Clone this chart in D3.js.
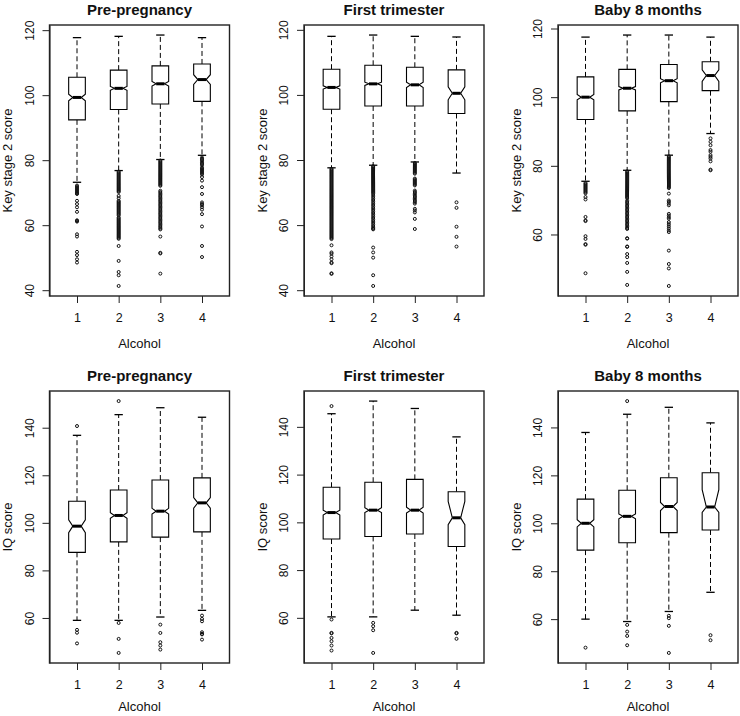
<!DOCTYPE html>
<html><head><meta charset="utf-8">
<script src="https://cdn.jsdelivr.net/npm/d3@7"></script>
<style>body{margin:0;background:#fff}svg{display:block}text{font-family:"Liberation Sans",Arial,sans-serif;fill:#111}</style>
</head><body><svg id="c" width="740" height="716"></svg>
<script>
// ---------------- DATA ----------------
const titles = ["Pre-pregnancy", "First trimester", "Baby 8 months"];
const yTitles = ["Key stage 2 score", "IQ score"];
const xTitle = "Alcohol";
const groups = [1, 2, 3, 4];

// rows per alcohol group: [whiskerLo, q1, median, q3, whiskerHi, notchLo, notchHi]
const ks2PreStats = [
  [73.2, 92.4, 99.3, 105.5, 117.7, 98.3, 100.3],
  [76.8, 95.6, 102.1, 107.7, 118.1, 101.5, 102.7],
  [80.2, 97.3, 103.5, 109.0, 118.5, 102.8, 104.2],
  [81.5, 98.1, 104.8, 109.6, 117.7, 103.3, 106.3]
];
const ks2FirstStats = [
  [77.6, 95.6, 102.3, 107.9, 118.0, 101.8, 102.8],
  [78.4, 96.6, 103.4, 109.1, 118.4, 102.9, 103.9],
  [79.4, 96.6, 103.1, 108.5, 118.0, 102.3, 103.9],
  [76.0, 94.3, 100.5, 107.7, 117.8, 98.5, 102.5]
];
const ks2BabyStats = [
  [75.5, 93.5, 100.0, 105.9, 117.5, 99.2, 100.8],
  [78.7, 96.0, 102.6, 108.1, 118.1, 102.1, 103.1],
  [83.1, 98.7, 104.8, 109.5, 118.1, 104.2, 105.4],
  [89.4, 101.9, 106.3, 110.3, 117.5, 104.6, 108.0]
];
const iqPreStats = [
  [59.0, 87.6, 98.6, 109.1, 136.8, 95.9, 101.3],
  [59.0, 92.0, 103.1, 113.8, 145.5, 101.9, 104.3],
  [60.4, 94.0, 104.9, 118.0, 148.4, 103.7, 106.1],
  [63.2, 96.2, 108.4, 118.9, 144.4, 106.2, 110.6]
];
const iqFirstStats = [
  [60.4, 93.0, 104.1, 114.7, 145.5, 103.1, 105.1],
  [60.4, 94.1, 105.1, 116.8, 150.8, 104.1, 106.1],
  [63.2, 95.1, 105.1, 118.0, 147.7, 103.9, 106.3],
  [61.1, 89.9, 101.9, 112.8, 135.8, 99.0, 108.8]
];
const iqBabyStats = [
  [60.0, 88.8, 100.0, 110.1, 137.9, 98.5, 101.5],
  [59.0, 91.9, 102.9, 113.8, 145.5, 101.9, 103.9],
  [63.2, 96.1, 107.0, 119.0, 148.4, 105.3, 108.7],
  [71.2, 97.2, 106.8, 121.1, 141.9, 104.5, 114.0]
];

// outliers per alcohol group
const ks2PreOut = [
  [72.2,71.9,71.6,71.3,71,70.7,70.4,70.1,69.8,69.6,67.5,66.5,65.5,64.1,61.5,61.3,61.1,57.2,56.5,51.8,50.8,49.5,48.5],
  [76.5,76.2,75.9,75.6,75.3,75,74.7,74.4,74.1,73.8,73.5,73.2,72.9,72.6,72.3,72,71.7,71.4,71.1,70.8,70.5,70.2,69,68.3,67.5,67.2,66.9,66.6,66.3,66,65.7,65.4,65.1,64.8,64.5,64.2,63.9,63.6,63.3,63,62.4,62.1,61.8,61.5,61.2,60.9,60.6,60.3,60,59.7,59.4,59.1,58.8,58.5,58.2,57.9,57.6,57.3,57,56.7,56.4,56.1,55.8,53.6,49,45.6,44.6,41.3],
  [79.9,79.6,79.3,79,78.7,78.4,78.1,77.8,77.5,77.2,76.9,76.6,76.3,76,75.7,75.4,75.1,74.8,74.5,74.2,73.9,73.6,73.3,73,72.7,72.4,72.1,70.6,70.2,69.8,69.4,69,68.6,68.2,67.8,67.4,67,66.6,66.2,65.8,65.4,65,64.6,64.2,63.8,63.4,63,62.6,62.2,61.8,61.4,61,60.6,60.2,59.8,59.4,59,58.7,56.5,51.5,51.3,45.1],
  [80.8,80.4,80,79.6,79.2,78.8,78.4,77.7,77.4,77.1,76.8,76.5,76.2,75.9,75.6,74.8,73.7,71.7,69.6,67,66.5,66.1,65.5,64.8,63.4,59.6,53.6,50.2]
];
const ks2FirstOut = [
  [77.3,77,76.7,76.4,76.1,75.8,75.5,75.2,74.9,74.6,74.3,74,73.7,73.4,73.1,72.8,72.5,72.2,71.9,71.6,71.3,71,70.7,70.4,70.1,69.8,69.5,69.2,68.9,68.6,68.3,68,67.7,67.4,67.1,66.8,66.5,66.2,65.9,65.6,65.3,65,64.7,64.4,64.1,63.8,63.5,63.2,62.9,62.6,62.3,62,61.7,61.4,61.1,60.8,60.5,60.2,59.9,59.6,59.3,59,58.7,58.4,58.1,57.8,57.5,57.2,56.9,56.6,56.3,56,55.7,53.8,51.6,51.2,50.4,49.5,48.5,48.3,45.2,45],
  [78.1,77.8,77.5,77.2,76.9,76.6,76.3,76,75.7,75.4,75.1,74.8,74.5,74.2,73.9,73.6,73.3,73,72.7,72.4,72.1,71.8,71.5,71.2,70.9,70.6,70.3,70,69.7,69.2,68.7,68.2,67.7,67.2,66.7,66.2,65.7,65.2,64.7,64.2,63.7,63.2,62.7,62.2,61.7,61.2,60.7,60.2,59.7,59.2,58.9,58.7,53.1,51.6,50,44.6,41.3],
  [79.1,78.8,78.5,78.2,77.9,77.6,77.3,77,76.7,76.4,76.1,75.8,74.3,74,73.7,73.4,73.1,72.8,72.5,72.2,70.6,70.2,69.8,69.4,69,68.6,68.2,67.8,67.4,67,66.6,65,64.5,63.9,61.9,58.8],
  [67,65.3,59.5,56.4,53.4]
];
const ks2BabyOut = [
  [75,74.7,74.4,74.1,73.8,73.5,73.2,72.9,72.6,72.3,72,70.9,70.2,65.1,64.1,63.9,59.5,58.7,57.2,57,48.7],
  [78.4,78.1,77.8,77.5,77.2,76.9,76.6,76.3,76,75.7,75.4,75.1,74.8,74.5,74.2,73.9,73.6,73.3,73,72.7,72.4,72.1,71.8,71.5,71.2,70.9,70.6,69.9,69.5,69.1,68.7,68.3,67.9,67.5,67.1,66.7,66.3,65.9,65.5,65.1,64.7,64.3,63.9,63.5,63.1,62.7,62.3,61.9,61.6,58.9,58.8,56.5,56.4,54.3,53.4,51.7,49.1,45.3],
  [82.8,82.5,82.2,81.9,81.6,81.3,81,80.7,80.4,80.1,79.8,79.5,79.2,78.9,78.6,78.3,78,77.7,77.4,77.1,76.8,76.5,76.2,75.9,75.6,75.3,75,74.7,74.4,74.1,73.8,73.5,71.9,69.9,69.5,69,68.5,66,65.5,65,64.6,63.6,63,62.4,61.8,61.2,60.7,55.3,51.4,50.1,45],
  [88,87,86,84.6,84.1,83.1,82.6,82.1,81.3,78.9,78.7]
];
const iqPreOut = [
  [140.7,55,53.8,49.3],
  [151.2,57.9,51.2,45.3],
  [57.2,53.7,49.8,48.4,46.7],
  [61,59.6,58.6,54,53.3,53.1,50.9]
];
const iqFirstOut = [
  [148.7,59.3,53.7,53.5,51.6,50.2,48.4,46.3],
  [57.9,56.5,54.8,45.3],
  [],
  [53.7,53.5,51.2]
];
const iqBabyOut = [
  [48.1],
  [151,57.6,54.8,53,49.1],
  [61.4,60.4,57.2,45.9],
  [53.3,51.2]
];

const ticksKs2 = [40, 60, 80, 100, 120];
const ticksKs2Baby = [60, 80, 100, 120];
const ticksIq = [60, 80, 100, 120, 140];

// ---------------- LAYOUT ----------------
const panels = [
  {row: 0, col: 0, stats: ks2PreStats, out: ks2PreOut, ticks: ticksKs2},
  {row: 0, col: 1, stats: ks2FirstStats, out: ks2FirstOut, ticks: ticksKs2},
  {row: 0, col: 2, stats: ks2BabyStats, out: ks2BabyOut, ticks: ticksKs2Baby},
  {row: 1, col: 0, stats: iqPreStats, out: iqPreOut, ticks: ticksIq},
  {row: 1, col: 1, stats: iqFirstStats, out: iqFirstOut, ticks: ticksIq},
  {row: 1, col: 2, stats: iqBabyStats, out: iqBabyOut, ticks: ticksIq}
];
const colLeft = [49.5, 304, 558];
const colW = 180;
const rowTop = [25, 391];
const rowBot = [296, 663];

const svg = d3.select("#c");
svg.append("rect").attr("width", 740).attr("height", 716).attr("fill", "#fff");

panels.forEach(p => {
  const L = colLeft[p.col], R = L + colW, T = rowTop[p.row], B = rowBot[p.row];
  const all = [];
  p.stats.forEach(s => { all.push(s[0], s[4]); });
  p.out.forEach(o => o.forEach(v => all.push(v)));
  const [mn, mx] = d3.extent(all);
  const pad = (mx - mn) * 0.04;
  const y = d3.scaleLinear().domain([mn - pad, mx + pad]).range([B, T]);
  const x = d3.scaleLinear().domain([0.34, 4.66]).range([L, R]);
  const g = svg.append("g");

  const hw = x(1.2) - x(1);      // box half width
  const sw = x(1.1) - x(1);      // staple half width

  p.stats.forEach((s, i) => {
    const cx = x(groups[i]);
    const [lo, q1, med, q3, hi, nlo, nhi] = s;
    // whiskers
    g.append("line").attr("x1", cx).attr("x2", cx).attr("y1", y(q3)).attr("y2", y(hi))
      .attr("stroke", "#000").attr("stroke-width", 1).attr("stroke-dasharray", "5,3");
    g.append("line").attr("x1", cx).attr("x2", cx).attr("y1", y(q1)).attr("y2", y(lo))
      .attr("stroke", "#000").attr("stroke-width", 1).attr("stroke-dasharray", "5,3");
    // staples
    [lo, hi].forEach(v => {
      g.append("line").attr("x1", cx - sw).attr("x2", cx + sw).attr("y1", y(v)).attr("y2", y(v))
        .attr("stroke", "#000").attr("stroke-width", 1.3);
    });
    // notched box
    const pts = [
      [cx - hw, y(q1)], [cx - hw, y(nlo)], [cx - hw / 2, y(med)], [cx - hw, y(nhi)], [cx - hw, y(q3)],
      [cx + hw, y(q3)], [cx + hw, y(nhi)], [cx + hw / 2, y(med)], [cx + hw, y(nlo)], [cx + hw, y(q1)]
    ];
    g.append("polygon").attr("points", pts.map(d => d.join(",")).join(" "))
      .attr("fill", "#fff").attr("stroke", "#000").attr("stroke-width", 1.1);
    // median
    g.append("line").attr("x1", cx - hw / 2).attr("x2", cx + hw / 2).attr("y1", y(med)).attr("y2", y(med))
      .attr("stroke", "#000").attr("stroke-width", 3);
    // outliers
    g.selectAll(null).data(p.out[i]).enter().append("circle")
      .attr("cx", cx).attr("cy", d => y(d)).attr("r", 1.5)
      .attr("fill", "none").attr("stroke", "#111").attr("stroke-width", 1);
  });

  // frame
  g.append("rect").attr("x", L).attr("y", T).attr("width", R - L).attr("height", B - T)
    .attr("fill", "none").attr("stroke", "#222").attr("stroke-width", 1.4);

  // y axis
  const ya = svg.append("g").attr("transform", `translate(${L},0)`)
    .call(d3.axisLeft(y).tickValues(p.ticks).tickSize(7).tickSizeOuter(0).tickFormat(d3.format("d")));
  ya.select(".domain").attr("stroke", "#222");
  ya.selectAll(".tick line").attr("stroke", "#222");
  ya.selectAll(".tick text").attr("x", null).attr("dy", "0.36em")
    .attr("transform", "translate(-20,0) rotate(-90)").attr("text-anchor", "middle")
    .style("font-size", "12px").attr("fill", "#111");

  // x axis
  const xa = svg.append("g").attr("transform", `translate(0,${B})`)
    .call(d3.axisBottom(x).tickValues(groups).tickSize(7).tickSizeOuter(0).tickPadding(10).tickFormat(d3.format("d")));
  xa.select(".domain").remove();
  xa.selectAll(".tick line").attr("stroke", "#222");
  xa.selectAll(".tick text").style("font-size", "12.5px").attr("fill", "#111");

  // titles
  svg.append("text").attr("x", (L + R) / 2).attr("y", T - 10).attr("text-anchor", "middle")
    .style("font-size", "15px").style("font-weight", "bold").text(titles[p.col]);
  svg.append("text").attr("x", (L + R) / 2).attr("y", B + (p.row === 0 ? 52 : 48)).attr("text-anchor", "middle")
    .style("font-size", "13px").text(xTitle);
  svg.append("text").attr("transform", `translate(${L - 42},${(T + B) / 2}) rotate(-90)`)
    .attr("dy", "0.35em").attr("text-anchor", "middle")
    .style("font-size", "13px").text(yTitles[p.row]);
});
</script></body></html>
